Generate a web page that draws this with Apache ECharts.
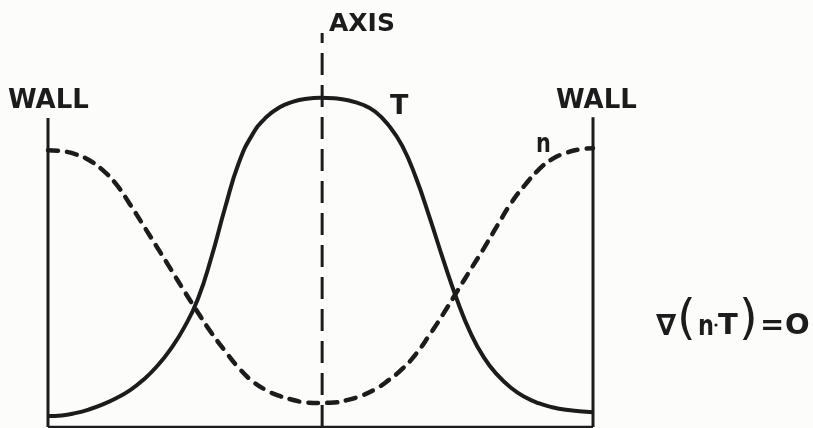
<!DOCTYPE html>
<html>
<head>
<meta charset="utf-8">
<script src="https://cdn.jsdelivr.net/npm/echarts@6/dist/echarts.min.js"></script>
<style>
  html, body { margin: 0; padding: 0; background: #fcfcfa; }
  #chart { width: 813px; height: 428px; }
</style>
</head>
<body>
<div id="chart"></div>
<script>
// Radial positions between the two walls (0 = left wall, 100 = right wall)
const positions = [
  0, 2.5, 5, 7.5, 10, 12.5, 15, 17.5, 20, 22.5, 25, 27.5, 30, 32.5, 35, 37.5, 40,
  42.5, 45, 47.5, 50, 52.5, 55, 57.5, 60, 62.5, 65, 67.5, 70, 72.5, 75, 77.5, 80,
  82.5, 85, 87.5, 90, 92.5, 95, 97.5, 100
];
// Temperature T: peaked on the axis, low at the walls
const tValues = [
  3.3, 3.5, 4.2, 5.3, 6.8, 8.7, 11.1, 14.3, 18.4, 23.6, 30.2, 38.8, 51.5, 66.5, 80.0,
  88.6, 93.8, 96.9, 98.6, 99.5, 99.8, 99.6, 99.0, 97.8, 95.6, 91.4, 85.2, 75.6, 63.6,
  50.8, 38.8, 28.6, 21.0, 15.7, 11.8, 9.1, 7.2, 6.0, 5.2, 4.8, 4.5
];
// Density n: high at the walls, lowest on the axis
const nValues = [
  83.9, 83.6, 82.7, 80.9, 77.9, 73.6, 67.6, 61.1, 54.5, 47.9, 41.2, 34.7, 28.5, 23.0,
  17.9, 13.9, 11.2, 9.4, 8.2, 7.4, 7.3, 7.4, 8.2, 9.5, 11.4, 14.2, 17.6, 22.1, 27.9,
  34.2, 40.9, 47.6, 54.2, 61.2, 67.9, 73.3, 77.9, 81.2, 83.0, 84.1, 84.5
];
const leftWall = [[0, 0], [0, 93.6]];
const rightWall = [[100, 0], [100, 93.9]];
const floorLine = [[0, 0], [100, 0]];
const symmetryAxis = [[50.3, 0], [50.3, 119.4]];

const ink = '#1c1c1c';
const labelFont = 'bold 26px "DejaVu Sans"';
const pair = (vals) => positions.map((x, i) => [x, vals[i]]);

function plain(data, width, dash) {
  return {
    type: 'line', data: data, showSymbol: false, silent: true, animation: false,
    lineStyle: { color: ink, width: width, type: dash || 'solid', cap: 'butt' }
  };
}

// narrow lettering for the lower-case n
function narrowText(text, x, y, size) {
  return {
    type: 'text', x: x, y: y, scaleX: 0.8,
    style: { text: text, font: 'bold ' + size + 'px "DejaVu Sans"', fill: ink }
  };
}

const chart = echarts.init(document.getElementById('chart'));
chart.setOption({
  backgroundColor: '#fcfcfa',
  animation: false,
  grid: { left: 48, right: 220, top: 31, bottom: 1 },
  xAxis: { type: 'value', min: 0, max: 100, show: false },
  yAxis: { type: 'value', min: 0, max: 120, show: false },
  series: [
    plain(leftWall, 3),
    plain(rightWall, 3),
    plain(floorLine, 2.5),
    plain(symmetryAxis, 3, [22, 10]),
    {
      name: 'T', type: 'line', data: pair(tValues), smooth: 0.5, showSymbol: false,
      silent: true, animation: false,
      lineStyle: { color: ink, width: 4 }
    },
    {
      name: 'n', type: 'line', data: pair(nValues), smooth: 0.5, showSymbol: false,
      silent: true, animation: false,
      lineStyle: { color: ink, width: 4.5, type: [10, 9], cap: 'round' }
    }
  ],
  graphic: [
    { type: 'text', left: 8, top: 88, style: { text: 'WALL', font: labelFont, fill: ink } },
    { type: 'text', left: 556, top: 88, style: { text: 'WALL', font: labelFont, fill: ink } },
    { type: 'text', left: 329, top: 12, style: { text: 'AXIS', font: 'bold 25px "DejaVu Sans"', fill: ink } },
    { type: 'text', left: 390, top: 93, style: { text: 'T', font: 'bold 27px "DejaVu Sans"', fill: ink } },
    narrowText('n', 536, 132, 26),
    { type: 'text', left: 656, top: 313, style: { text: '∇', font: 'bold 29px "DejaVu Sans"', fill: ink } },
    { type: 'text', left: 677, top: 298, style: { text: '(', font: '48px "DejaVu Sans"', fill: ink } },
    narrowText('n', 698, 314, 28),
    { type: 'circle', shape: { cx: 716, cy: 325, r: 1.6 }, style: { fill: ink } },
    { type: 'text', left: 718, top: 312, style: { text: 'T', font: 'bold 29px "DejaVu Sans"', fill: ink } },
    { type: 'text', left: 739, top: 298, style: { text: ')', font: '48px "DejaVu Sans"', fill: ink } },
    { type: 'text', left: 760, top: 312, style: { text: '=', font: 'bold 29px "DejaVu Sans"', fill: ink } },
    { type: 'text', left: 785, top: 312, style: { text: 'O', font: 'bold 29px "DejaVu Sans"', fill: ink } }
  ]
});
</script>
</body>
</html>
